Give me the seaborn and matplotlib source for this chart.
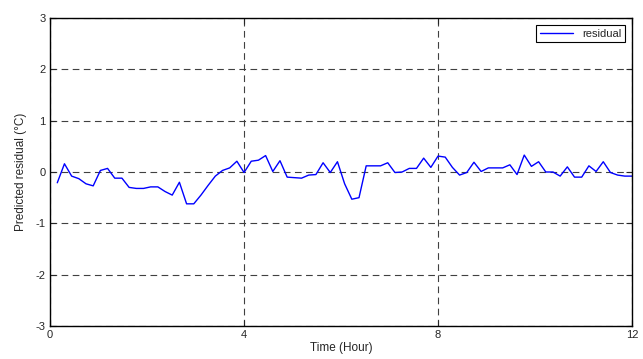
import numpy as np
import pandas as pd
import matplotlib
matplotlib.use('Agg')
import matplotlib.pyplot as plt
import seaborn as sns

# residual values (81 samples, 0.15 h .. 12 h)
residual = [-0.21, 0.16, -0.08, -0.13, -0.23, -0.27, 0.03, 0.07, -0.12, -0.12,
            -0.30, -0.32, -0.32, -0.29, -0.29, -0.38, -0.45, -0.20, -0.62, -0.62,
            -0.45, -0.26, -0.08, 0.03, 0.08, 0.21, -0.01, 0.21, 0.23, 0.32,
            0.01, 0.22, -0.10, -0.11, -0.12, -0.06, -0.05, 0.18, -0.01, 0.20,
            -0.23, -0.53, -0.50, 0.12, 0.12, 0.12, 0.18, -0.01, 0.00, 0.07,
            0.07, 0.27, 0.09, 0.31, 0.29, 0.09, -0.06, -0.01, 0.19, 0.01,
            0.08, 0.08, 0.08, 0.14, -0.05, 0.33, 0.11, 0.20, 0.00, 0.00,
            -0.08, 0.10, -0.10, -0.10, 0.12, 0.01, 0.20, -0.01, -0.06, -0.08,
            -0.08]
time_h = np.linspace(0.15, 12, len(residual))

x_ticks = [0, 4, 8, 12]
y_ticks = [-3, -2, -1, 0, 1, 2, 3]

df = pd.DataFrame({'time': time_h, 'residual': residual})

sns.set_style('white')
plt.rcParams['font.family'] = ['Liberation Sans', 'DejaVu Sans']
plt.rcParams['axes.unicode_minus'] = False

fig = plt.figure(figsize=(6.43, 3.59), dpi=100)
ax = fig.add_axes([50/643, 1 - 326/359, 582/643, 308/359])

sns.lineplot(x='time', y='residual', data=df, color='#0000ff', linewidth=1.0,
             label='residual', ax=ax)

ax.set_xlim(0, 12)
ax.set_ylim(-3, 3)
ax.set_xticks(x_ticks)
ax.set_yticks(y_ticks)
ax.grid(True, color='#404040', linestyle=(0, (6, 4)), linewidth=0.8)
ax.tick_params(direction='in', length=4, labelsize=8, pad=3,
               top=True, right=True, bottom=True, left=True)
for s in ax.spines.values():
    s.set_color('black')
    s.set_linewidth(1.0)

ax.set_xlabel('Time (Hour)', fontsize=8.5, labelpad=1)
ax.set_ylabel('Predicted residual (°C)', fontsize=8.5, labelpad=6)

leg = ax.legend(loc='upper right', fontsize=8, fancybox=False, framealpha=1,
                handlelength=3, borderpad=0.35, borderaxespad=0.6)
leg.get_frame().set_edgecolor('black')
leg.get_frame().set_linewidth(0.8)

fig.savefig('out.png', dpi=100)
